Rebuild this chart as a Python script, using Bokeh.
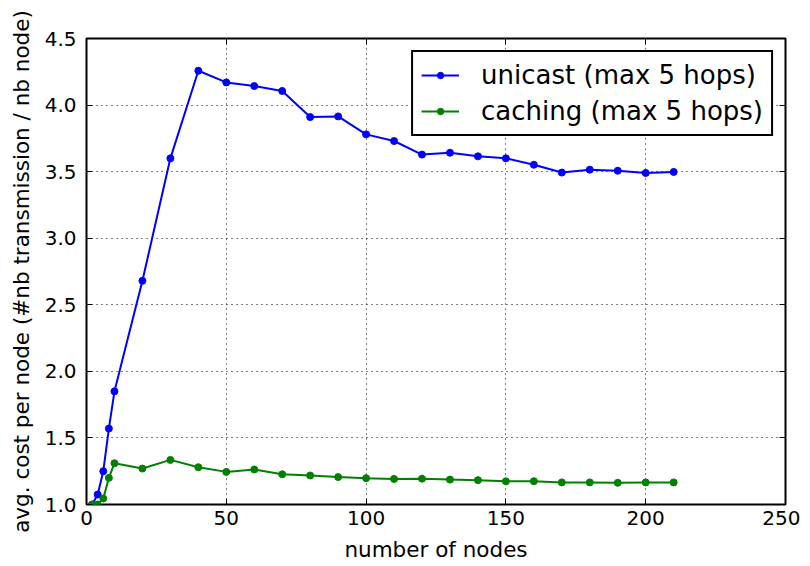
from bokeh.plotting import figure
from bokeh.models import (Range1d, LinearAxis, FixedTicker, Legend, LegendItem,
                          PrintfTickFormatter, CustomJSTickFormatter)
from bokeh.embed import file_html
from bokeh.resources import INLINE

nodes = [2, 4, 6, 8, 10, 20, 30, 40, 50, 60, 70, 80, 90, 100, 110, 120, 130, 140,
         150, 160, 170, 180, 190, 200, 210]
unicast = [1.0, 1.075, 1.25, 1.57, 1.85, 2.68, 3.6, 4.258, 4.17, 4.143, 4.106, 3.91,
           3.915, 3.78, 3.73, 3.628, 3.642, 3.615, 3.6, 3.552, 3.493, 3.515, 3.507,
           3.49, 3.498]
caching = [1.0, 1.0, 1.045, 1.2, 1.31, 1.27, 1.335, 1.28, 1.245, 1.263, 1.227, 1.218,
           1.206, 1.198, 1.192, 1.194, 1.187, 1.183, 1.174, 1.175, 1.166, 1.166,
           1.163, 1.166, 1.166]
x_ticks = [0, 50, 100, 150, 200, 250]
y_ticks = [1.0, 1.5, 2.0, 2.5, 3.0, 3.5, 4.0, 4.5]
labels = ["unicast (max 5 hops)", "caching (max 5 hops)"]

FONT = "DejaVu Sans"

p = figure(width=800, height=566, output_backend="svg", toolbar_location=None,
           x_range=Range1d(0, 250), y_range=Range1d(1.0, 4.5),
           min_border_left=86, min_border_right=15, min_border_top=38,
           min_border_bottom=62)
p.outline_line_color = "black"
p.outline_line_width = 2
p.outline_line_alpha = 1
p.background_fill_color = "white"
p.border_fill_color = "white"

for ax in (p.xaxis[0], p.yaxis[0]):
    ax.axis_line_color = None
    ax.major_tick_in = 6
    ax.major_tick_out = 0
    ax.major_tick_line_width = 1
    ax.minor_tick_line_color = None
    ax.major_label_text_font = FONT
    ax.major_label_text_font_size = "20px"
    ax.major_label_text_color = "black"
    ax.axis_label_text_font = FONT
    ax.axis_label_text_font_size = "21.5px"
    ax.axis_label_text_font_style = "normal"
    ax.axis_label_text_color = "black"

p.xaxis[0].ticker = FixedTicker(ticks=x_ticks)
p.yaxis[0].ticker = FixedTicker(ticks=y_ticks)
p.xaxis[0].axis_label = "number of nodes"
p.yaxis[0].axis_label = "avg. cost per node (#nb transmission / nb node)"
p.xaxis[0].major_label_standoff = 6
p.yaxis[0].major_label_standoff = 10
p.xaxis[0].axis_label_standoff = 9
p.yaxis[0].axis_label_standoff = 8
p.yaxis[0].formatter = PrintfTickFormatter(format="%.1f")

blank = CustomJSTickFormatter(code="return ''")
top_ax = LinearAxis(ticker=FixedTicker(ticks=x_ticks), formatter=blank,
                    axis_line_color=None, major_tick_in=6, major_tick_out=0,
                    minor_tick_line_color=None)
right_ax = LinearAxis(ticker=FixedTicker(ticks=y_ticks), formatter=blank,
                      axis_line_color=None, major_tick_in=6, major_tick_out=0,
                      minor_tick_line_color=None)
p.add_layout(top_ax, "above")
p.add_layout(right_ax, "right")

p.xgrid.ticker = FixedTicker(ticks=x_ticks)
p.ygrid.ticker = FixedTicker(ticks=y_ticks)
for g in (p.xgrid, p.ygrid):
    g.grid_line_color = "black"
    g.grid_line_dash = "1 4"
    g.grid_line_width = 1

l1 = p.line(nodes, unicast, line_color="blue", line_width=2)
c1 = p.scatter(nodes, unicast, size=7, fill_color="blue", line_color="blue")
l2 = p.line(nodes, caching, line_color="green", line_width=2)
c2 = p.scatter(nodes, caching, size=7, fill_color="green", line_color="green")

legend = Legend(items=[LegendItem(label=labels[0], renderers=[l1, c1]),
                       LegendItem(label=labels[1], renderers=[l2, c2])],
                location="top_right")
legend.label_text_font = FONT
legend.label_text_font_size = "26px"
legend.label_text_color = "black"
legend.border_line_color = "black"
legend.border_line_alpha = 1
legend.border_line_width = 2
legend.glyph_width = 38
legend.glyph_height = 16
legend.label_standoff = 22
legend.label_height = 28
legend.padding = 8
legend.spacing = 6
legend.margin = 12
p.add_layout(legend)

open("out.html", "w").write(file_html(p, INLINE))
